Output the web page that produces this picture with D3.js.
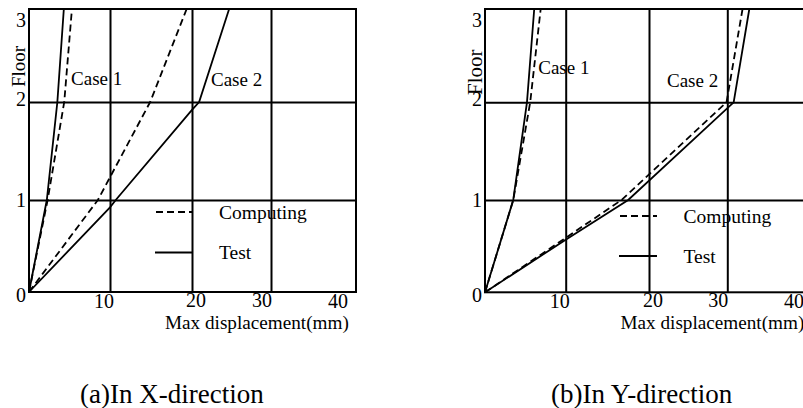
<!DOCTYPE html>
<html>
<head>
<meta charset="utf-8">
<script src="https://cdn.jsdelivr.net/npm/d3@7"></script>
<style>
  body { margin: 0; background: #fff; }
  svg { display: block; font-family: "Liberation Serif", "Times New Roman", serif; }
</style>
</head>
<body>
<script>
// ticks
const floors = [0, 1, 2, 3];
const dispTicks = [10, 20, 30, 40];

// (a) X-direction, [displacement mm, floor]
const xCase1Test = [[0, 0], [2.2, 1], [3.5, 2], [4.3, 3]];
const xCase1Comp = [[0, 0], [2.3, 1], [4.35, 2], [5.3, 3]];
const xCase2Test = [[0, 0], [10, 0.92], [10.7, 1], [20, 1.92], [20.9, 2], [24.7, 3]];
const xCase2Comp = [[0, 0], [8.5, 1], [14.9, 2], [19.35, 3]];

// (b) Y-direction
const yCase1Test = [[0, 0], [3.5, 1], [5.2, 2], [6.1, 3]];
const yCase1Comp = [[0, 0], [3.5, 1], [5.6, 2], [6.9, 3]];
const yCase2Test = [[0, 0], [10, 0.57], [17.5, 1], [30.75, 2], [32.6, 3]];
const yCase2Comp = [[0, 0], [10, 0.59], [16.7, 1], [29.9, 2], [31.8, 3]];

// case labels, [displacement, floor]
const xCaseLabels = [["Case 1", 5.2, 2.18], ["Case 2", 22.4, 2.17]];
const yCaseLabels = [["Case 1", 6.6, 2.3], ["Case 2", 22.3, 2.16]];

const legendNames = ["Computing", "Test"];

const w = 803;
const h = 408;
const dash = "7,4";
// small nudges so tick labels sit where the original print put them
const dispLabelDx = [-6, 4, -9, -18];
const dispLabelDy = [15.5, 14.5, 14.5, 15.5];
const floorLabelDy = [10, 6.5, 4, 18];

const panels = [
  {
    xRange: [29, 110, 192, 271, 356],
    yRange: [292, 200, 102, 9],
    series: [[xCase1Test, false], [xCase1Comp, true], [xCase2Test, false], [xCase2Comp, true]],
    cases: xCaseLabels,
    legend: { x1: 156, x2: 192, y: 212, gap: 40.5, tx: 219, ty: 218.5 },
    floorTitle: { x: 25, y: 87, size: 19 },
    title: { x: 165, y: 329 },
    caption: { text: "(a)In X-direction", x: 80 },
  },
  {
    xRange: [485, 565.7, 649, 727.3, 812],
    yRange: [292.3, 200, 102.3, 9],
    series: [[yCase1Test, false], [yCase1Comp, true], [yCase2Test, false], [yCase2Comp, true]],
    cases: yCaseLabels,
    legend: { x1: 620, x2: 657, y: 216, gap: 40, tx: 683.5, ty: 222.5 },
    floorTitle: { x: 481.5, y: 95, size: 21 },
    title: { x: 620.5, y: 329 },
    caption: { text: "(b)In Y-direction", x: 551 },
  },
];

const svg = d3.select("body").append("svg").attr("width", w).attr("height", h);

const drawPanel = (p) => {
  const g = svg.append("g");
  const x = d3.scaleLinear().domain([0, 10, 20, 30, 40]).range(p.xRange);
  const y = d3.scaleLinear().domain(floors).range(p.yRange);

  // grid
  g.append("g")
    .attr("transform", `translate(0,${y(0)})`)
    .call(d3.axisBottom(x).tickValues([10, 20, 30]).tickSize(-(y(0) - y(3))).tickSizeOuter(0).tickFormat(""))
    .call((a) => a.select(".domain").remove())
    .call((a) => a.selectAll("line").attr("stroke", "#000").attr("stroke-width", 2));
  g.append("g")
    .attr("transform", `translate(${x(0)},0)`)
    .call(d3.axisLeft(y).tickValues([1, 2]).tickSize(-(x(40) - x(0))).tickSizeOuter(0).tickFormat(""))
    .call((a) => a.select(".domain").remove())
    .call((a) => a.selectAll("line").attr("stroke", "#000").attr("stroke-width", 2));

  // frame
  g.append("rect")
    .attr("x", x(0))
    .attr("y", y(3))
    .attr("width", x(40) - x(0))
    .attr("height", y(0) - y(3))
    .attr("fill", "none")
    .attr("stroke", "#000")
    .attr("stroke-width", 2);

  // tick labels
  g.selectAll(".floor-label")
    .data(floors)
    .enter()
    .append("text")
    .attr("x", x(0) - 3)
    .attr("y", (d, i) => y(d) + floorLabelDy[i])
    .attr("text-anchor", "end")
    .attr("font-size", 20)
    .text((d) => d);
  g.selectAll(".disp-label")
    .data(dispTicks)
    .enter()
    .append("text")
    .attr("x", (d, i) => x(d) + dispLabelDx[i])
    .attr("y", (d, i) => y(0) + dispLabelDy[i])
    .attr("text-anchor", "middle")
    .attr("font-size", 20)
    .text((d) => d);

  // curves
  const line = d3.line().x((d) => x(d[0])).y((d) => y(d[1]));
  g.selectAll(".curve")
    .data(p.series)
    .enter()
    .append("path")
    .attr("d", (d) => line(d[0]))
    .attr("fill", "none")
    .attr("stroke", "#000")
    .attr("stroke-width", 1.8)
    .attr("stroke-dasharray", (d) => (d[1] ? dash : null));

  // case labels
  g.selectAll(".case")
    .data(p.cases)
    .enter()
    .append("text")
    .attr("x", (d) => x(d[1]))
    .attr("y", (d) => y(d[2]))
    .attr("font-size", 19)
    .text((d) => d[0]);

  // legend
  const lg = p.legend;
  legendNames.forEach((name, i) => {
    g.append("line")
      .attr("x1", lg.x1 - i)
      .attr("x2", lg.x2)
      .attr("y1", lg.y + i * lg.gap)
      .attr("y2", lg.y + i * lg.gap)
      .attr("stroke", "#000")
      .attr("stroke-width", 1.8)
      .attr("stroke-dasharray", i === 0 ? dash : null);
    g.append("text")
      .attr("x", lg.tx)
      .attr("y", lg.ty + i * lg.gap)
      .attr("font-size", 19.5)
      .text(name);
  });

  // axis titles
  g.append("text")
    .attr("transform", `translate(${p.floorTitle.x},${p.floorTitle.y}) rotate(-90)`)
    .attr("font-size", p.floorTitle.size)
    .text("Floor");
  g.append("text")
    .attr("x", p.title.x)
    .attr("y", p.title.y)
    .attr("font-size", 19.2)
    .text("Max displacement(mm)");

  g.append("text")
    .attr("x", p.caption.x)
    .attr("y", 403)
    .attr("font-size", 27)
    .text(p.caption.text);
};

panels.forEach(drawPanel);
</script>
</body>
</html>
